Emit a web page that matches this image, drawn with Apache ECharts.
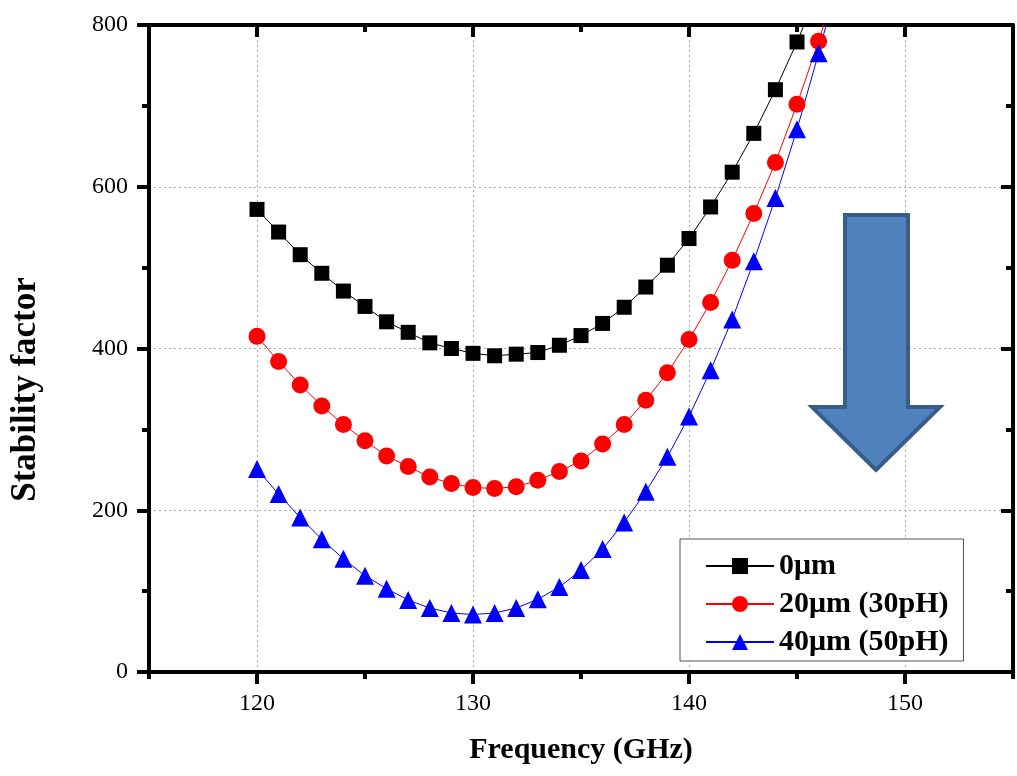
<!DOCTYPE html>
<html>
<head>
<meta charset="utf-8">
<script src="https://cdn.jsdelivr.net/npm/echarts@6/dist/echarts.min.js"></script>
<style>
  html, body { margin: 0; padding: 0; background: #fff; }
  #chart { width: 1017px; height: 776px; }
</style>
</head>
<body>
<div id="chart"></div>
<script>
// frequency (GHz)
var freq = [120,121,122,123,124,125,126,127,128,129,130,131,132,133,134,135,136,137,138,139,140,141,142,143,144,145,146,147];
// stability factor
var s0um  = [572,544,516,493,471,452,433,420,407,400,394,391,393,395,404,416,431,451,476,503,536,575,618,666,720,779,843];
var s20um = [415,384,355,329,306,286,267,254,241,233,228,227,229,237,248,261,282,306,336,370,411,457,509,567,630,702,780,862];
var s40um = [251,220,191,164,140,119,103,89,79,73,71,73,79,90,105,126,152,185,223,266,316,373,436,508,586,671,765,865];

var xMajor = [120,130,140,150];
var xMinor = [115,125,135,145,155];
var seriesNames = ['0μm', '20μm (30pH)', '40μm (50pH)'];

function pairs(ys) {
  var out = [];
  for (var i = 0; i < ys.length; i++) out.push([freq[i], ys[i]]);
  return out;
}

var serif = "'Liberation Serif', 'Times New Roman', serif";
var axisLine = { show: true, onZero: false, lineStyle: { color: '#000', width: 4 } };
var dotted = { show: true, lineStyle: { color: '#aaa', width: 1, type: [2, 3] } };
var gridBox = { left: 149, right: 4, top: 25, bottom: 104 };

var chart = echarts.init(document.getElementById('chart'));

var option = {
  animation: false,
  grid: [
    { left: gridBox.left, right: gridBox.right, top: gridBox.top, bottom: gridBox.bottom },
    { left: gridBox.left, right: gridBox.right, top: gridBox.top, bottom: gridBox.bottom }
  ],
  xAxis: [
    {
      gridIndex: 0, type: 'value', min: 115, max: 155, position: 'bottom',
      name: 'Frequency (GHz)', nameLocation: 'middle', nameGap: 63,
      nameTextStyle: { fontFamily: serif, fontWeight: 'bold', fontSize: 30, color: '#000' },
      axisLine: axisLine,
      axisTick: { customValues: xMajor, length: 12, lineStyle: { color: '#000', width: 4 } },
      axisLabel: { customValues: xMajor, margin: 20, fontFamily: serif, fontSize: 24, color: '#000' },
      splitLine: dotted
    },
    {
      gridIndex: 0, type: 'value', min: 115, max: 155, position: 'top',
      axisLine: axisLine,
      axisTick: { inside: true, customValues: xMajor, length: 12, lineStyle: { color: '#000', width: 4 } },
      axisLabel: { show: false },
      splitLine: { show: false }
    },
    {
      gridIndex: 1, type: 'value', min: 115, max: 155, position: 'bottom',
      axisLine: { show: false },
      axisTick: { customValues: xMinor, length: 7, lineStyle: { color: '#000', width: 4 } },
      axisLabel: { show: false },
      splitLine: { show: false }
    },
    {
      gridIndex: 1, type: 'value', min: 115, max: 155, position: 'top',
      axisLine: { show: false },
      axisTick: { inside: true, customValues: xMinor, length: 7, lineStyle: { color: '#000', width: 4 } },
      axisLabel: { show: false },
      splitLine: { show: false }
    }
  ],
  yAxis: [
    {
      gridIndex: 0, type: 'value', min: 0, max: 800, interval: 200, position: 'left',
      name: 'Stability factor', nameLocation: 'middle', nameGap: 106,
      nameTextStyle: { fontFamily: serif, fontWeight: 'bold', fontSize: 35, color: '#000', padding: [0, 82, 0, 0] },
      axisLine: axisLine,
      axisTick: { length: 12, lineStyle: { color: '#000', width: 4 } },
      minorTick: { show: true, splitNumber: 2, length: 7, lineStyle: { color: '#000', width: 4 } },
      axisLabel: { margin: 21, fontFamily: serif, fontSize: 24, color: '#000' },
      splitLine: dotted
    },
    {
      gridIndex: 0, type: 'value', min: 0, max: 800, interval: 200, position: 'right',
      axisLine: axisLine,
      axisTick: { inside: true, length: 12, lineStyle: { color: '#000', width: 4 } },
      minorTick: { show: true, splitNumber: 2, length: 7, lineStyle: { color: '#000', width: 4 } },
      axisLabel: { show: false },
      splitLine: { show: false }
    },
    { gridIndex: 1, type: 'value', min: 0, max: 800, show: false }
  ],
  legend: {
    orient: 'vertical', left: 680, top: 539,
    padding: [12, 15, 4, 25], itemGap: 8,
    itemWidth: 68, itemHeight: 20,
    borderColor: '#555', borderWidth: 1, backgroundColor: '#fff',
    textStyle: { fontFamily: serif, fontWeight: 'bold', fontSize: 30, color: '#000' },
    data: seriesNames
  },
  series: [
    {
      name: seriesNames[0], type: 'line', xAxisIndex: 0, yAxisIndex: 0,
      data: pairs(s0um), symbol: 'rect', symbolSize: 15,
      itemStyle: { color: '#000' }, lineStyle: { color: '#000', width: 1 }
    },
    {
      name: seriesNames[1], type: 'line', xAxisIndex: 0, yAxisIndex: 0,
      data: pairs(s20um), symbol: 'circle', symbolSize: 17,
      itemStyle: { color: '#ff0000' }, lineStyle: { color: '#ff0000', width: 1 }
    },
    {
      name: seriesNames[2], type: 'line', xAxisIndex: 0, yAxisIndex: 0,
      data: pairs(s40um), symbol: 'triangle', symbolSize: 18,
      itemStyle: { color: '#0000ff' }, lineStyle: { color: '#0000ff', width: 1 }
    }
  ],
  graphic: [
    {
      type: 'polygon', z: 5,
      shape: { points: [[845, 215], [908, 215], [908, 407], [940, 407], [876, 470], [812, 407], [845, 407]] },
      style: { fill: '#4f81bd', stroke: '#385d8a', lineWidth: 4 }
    }
  ]
};

chart.setOption(option);
</script>
</body>
</html>
